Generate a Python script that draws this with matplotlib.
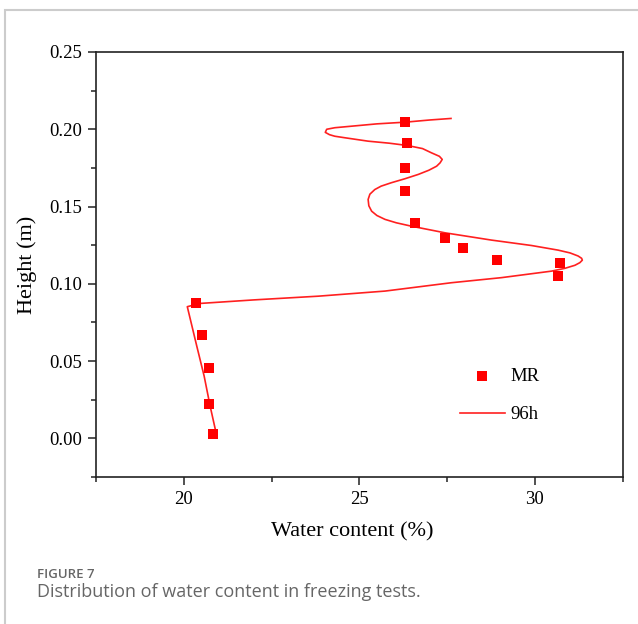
import matplotlib
matplotlib.use("Agg")
import matplotlib.pyplot as plt
from matplotlib.patches import Rectangle
from matplotlib.ticker import MultipleLocator

# measured points (MR)
mr_x = [26.31, 26.37, 26.30, 26.30, 26.58, 27.44, 27.96, 28.91, 30.72, 30.66,
        20.34, 20.53, 20.71, 20.71, 20.84]
mr_y = [0.2046, 0.1908, 0.1751, 0.1600, 0.1395, 0.1298, 0.1229, 0.1153, 0.1132, 0.1050,
        0.0878, 0.0666, 0.0455, 0.0220, 0.0026]

# simulated profile after 96h
sim_x = [27.61, 27.00, 26.31, 25.50, 24.78, 24.30, 24.07, 24.03, 24.15, 24.30, 24.59,
         25.25, 25.85, 26.37, 26.80, 27.05, 27.28, 27.36, 27.30, 27.20, 26.98, 26.68,
         26.30, 25.91, 25.62, 25.44, 25.30, 25.25, 25.27, 25.35, 25.50, 25.73, 26.05,
         26.48, 27.44, 28.76, 29.90, 30.66, 31.00, 31.23, 31.33, 31.35, 31.28, 31.14,
         30.85, 30.47, 29.05, 27.62, 25.73, 23.83, 22.00, 20.46, 20.10, 20.37, 20.58,
         20.75, 20.94]
sim_y = [0.2070, 0.2060, 0.2046, 0.2035, 0.2020, 0.2010, 0.2000, 0.1980, 0.1965, 0.1955,
         0.1945, 0.1923, 0.1910, 0.1895, 0.1875, 0.1848, 0.1825, 0.1805, 0.1783, 0.1761,
         0.1735, 0.1708, 0.1680, 0.1654, 0.1632, 0.1610, 0.1580, 0.1546, 0.1505, 0.1470,
         0.1442, 0.1417, 0.1395, 0.1373, 0.1330, 0.1283, 0.1248, 0.1218, 0.1200, 0.1180,
         0.1165, 0.1153, 0.1137, 0.1120, 0.1100, 0.1082, 0.1040, 0.1007, 0.0953, 0.0920,
         0.0896, 0.0873, 0.0852, 0.0597, 0.0403, 0.0209, 0.0015]

plt.rcParams['font.family'] = ['Liberation Serif']

fig = plt.figure(figsize=(6.38, 6.24), dpi=100)
ax = fig.add_axes([96/638, 1-477/624, 526.7/638, 425/624])

ax.scatter(mr_x, mr_y, marker='s', s=58, color='#ff0000', linewidths=0, label='MR', zorder=3)
ax.plot(sim_x, sim_y, color='#ff2020', lw=1.2, label='96h', zorder=2)

ax.set_xlim(17.5, 32.5)
ax.set_ylim(-0.025, 0.25)
ax.xaxis.set_minor_locator(MultipleLocator(2.5))
ax.yaxis.set_minor_locator(MultipleLocator(0.025))
ax.set_xticks([20, 25, 30])
ax.set_xticklabels(['20', '25', '30'])
ax.set_yticks([0.0, 0.05, 0.10, 0.15, 0.20, 0.25])
ax.set_yticklabels(['0.00', '0.05', '0.10', '0.15', '0.20', '0.25'])
ax.tick_params(which='major', direction='out', length=6, width=1.1, labelsize=13.5,
               color='#222222', pad=4)
ax.tick_params(which='minor', direction='out', length=3.5, width=1.1, color='#222222')
for s in ax.spines.values():
    s.set_linewidth(1.2)
    s.set_color('#222222')

ax.set_xlabel('Water content (%)', fontsize=16)
ax.set_ylabel('Height (m)', fontsize=16)
ax.xaxis.set_label_coords(0.486, -0.106)
ax.yaxis.set_label_coords(-0.112, 0.5)

ax.legend(loc='center', bbox_to_anchor=(0.766, 0.192), frameon=False, fontsize=13.5,
          handlelength=2.4, labelspacing=1.15, handletextpad=0.3, scatterpoints=1)

# page frame and caption
fig.add_artist(Rectangle((5/638, -0.1), 2, 1.1 - 9.5/624, transform=fig.transFigure,
                         fill=False, edgecolor='#cccccc', lw=1.5))
fig.text(37/638, 1-578/624, 'FIGURE 7', family='Open Sans', weight='semibold',
         fontsize=9.5, color='#666666', va='baseline')
fig.text(37/638, 1-597/624, 'Distribution of water content in freezing tests.',
         family='Open Sans', fontsize=13, color='#666666', va='baseline')

fig.savefig('out.png', dpi=100)
